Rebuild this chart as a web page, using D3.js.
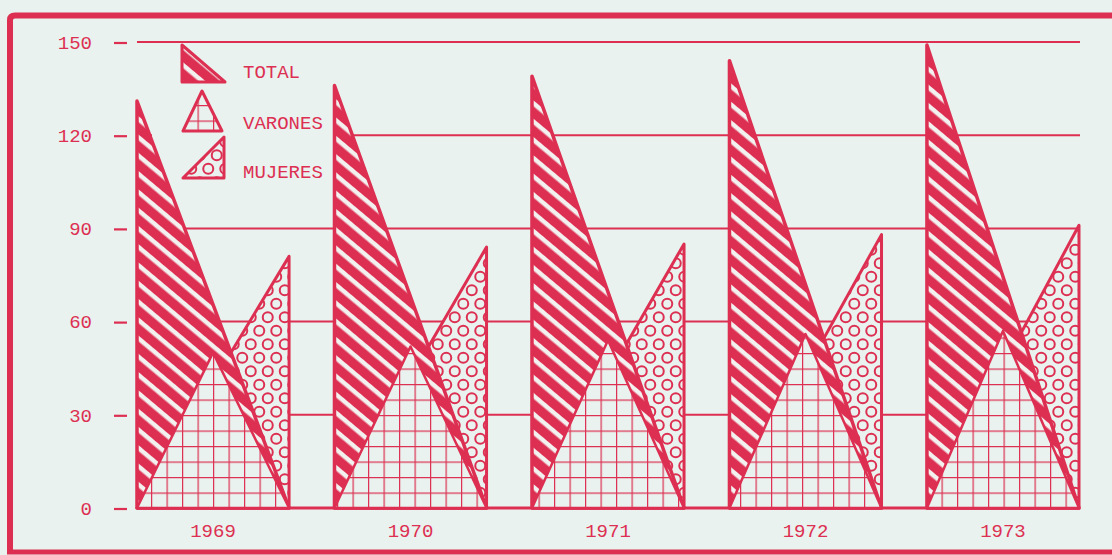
<!DOCTYPE html>
<html>
<head>
<meta charset="utf-8">
<script src="https://cdn.jsdelivr.net/npm/d3@7"></script>
<style>
  body { margin: 0; background: #e9f2ee; }
  svg text { font-family: "Liberation Mono", "DejaVu Sans Mono", monospace; fill: #dd2f52; }
</style>
</head>
<body>
<script>
// data
const years = ["1969", "1970", "1971", "1972", "1973"];
const total = [131, 136, 139, 144, 149];
const varones = [50, 52, 54, 56, 57];
const mujeres = [81, 84, 85, 88, 91];
const yTicks = [0, 30, 60, 90, 120, 150];
const legendLabels = ["TOTAL", "VARONES", "MUJERES"];

const red = "#dd2f52";
const bg = "#e9f2ee";
const W = 1112, H = 555;

const svg = d3.select("body").append("svg")
    .attr("width", W)
    .attr("height", H);

const y = d3.scaleLinear().domain([0, 150]).range([508, 42]);
const x = d3.scaleBand().domain(years).range([137, 1079]).paddingInner(0.23).paddingOuter(0);

// patterns: stripes (total), grid (varones), rings (mujeres)
const defs = svg.append("defs");

const stripes = defs.append("pattern")
    .attr("id", "stripes")
    .attr("patternUnits", "userSpaceOnUse")
    .attr("width", 14).attr("height", 14)
    .attr("patternTransform", "rotate(40)");
stripes.append("rect").attr("width", 14).attr("height", 14).attr("fill", "#f3f1ef");
stripes.append("rect").attr("y", 4.5).attr("width", 14).attr("height", 9.5).attr("fill", red);

const gridSize = 15.5;
const grid = defs.append("pattern")
    .attr("id", "grid")
    .attr("patternUnits", "userSpaceOnUse")
    .attr("x", x("1969") + x.bandwidth() / 2)
    .attr("y", 508)
    .attr("width", gridSize).attr("height", gridSize);
grid.append("rect").attr("width", gridSize).attr("height", gridSize).attr("fill", bg);
grid.append("path")
    .attr("d", `M0,0H${gridSize}M0,0V${gridSize}`)
    .attr("stroke", red).attr("stroke-width", 2.4).attr("fill", "none");

const rings = defs.append("pattern")
    .attr("id", "rings")
    .attr("patternUnits", "userSpaceOnUse")
    .attr("width", 17).attr("height", 27);
rings.append("rect").attr("width", 17).attr("height", 27).attr("fill", bg);
[[4.25, 6.75], [12.75, 20.25], [21.25, 6.75], [-4.25, 20.25]].forEach(c => {
    rings.append("circle")
        .attr("cx", c[0]).attr("cy", c[1]).attr("r", 5)
        .attr("fill", "none").attr("stroke", red).attr("stroke-width", 2);
});

// frame
svg.append("path")
    .attr("d", `M10,552 V20 Q10,15.5 15,15.5 H${W}`)
    .attr("fill", "none").attr("stroke", red).attr("stroke-width", 6);
svg.append("line")
    .attr("x1", 7).attr("x2", W).attr("y1", 552).attr("y2", 552)
    .attr("stroke", red).attr("stroke-width", 5);

// grid lines
svg.append("g").selectAll("line")
    .data(yTicks)
    .enter()
    .append("line")
    .attr("x1", 137).attr("x2", 1080)
    .attr("y1", d => y(d)).attr("y2", d => y(d))
    .attr("stroke", red).attr("stroke-width", d => d === 0 ? 3 : 2);

// y axis labels with dash ticks
const yAxis = svg.append("g");
yAxis.selectAll("text")
    .data(yTicks)
    .enter()
    .append("text")
    .attr("x", 92).attr("y", d => y(d))
    .attr("dy", "0.36em")
    .attr("text-anchor", "end")
    .style("font-size", "19px")
    .text(d => d);
yAxis.selectAll("line")
    .data(yTicks)
    .enter()
    .append("line")
    .attr("x1", 114).attr("x2", 127)
    .attr("y1", d => y(d) + 1).attr("y2", d => y(d) + 1)
    .attr("stroke", red).attr("stroke-width", 2.2);

// hide the 120 line behind the legend
svg.append("rect")
    .attr("x", 152).attr("y", 125)
    .attr("width", x("1970") - 153).attr("height", 20)
    .attr("fill", bg);

const groups = years.map((yr, i) => ({ year: yr, total: total[i], varones: varones[i], mujeres: mujeres[i] }));
const g = svg.append("g");

// mujeres: right angle on the right side
g.selectAll(".mujeres")
    .data(groups)
    .enter()
    .append("path")
    .attr("class", "mujeres")
    .attr("d", d => {
        const x0 = x(d.year), x1 = x0 + x.bandwidth();
        return `M${x0},${y(0)}L${x1},${y(0)}L${x1},${y(d.mujeres)}Z`;
    })
    .attr("fill", "url(#rings)")
    .attr("stroke", red).attr("stroke-width", 3).attr("stroke-linejoin", "round");

// total: right angle on the left side
g.selectAll(".total")
    .data(groups)
    .enter()
    .append("path")
    .attr("class", "total")
    .attr("d", d => {
        const x0 = x(d.year), x1 = x0 + x.bandwidth();
        return `M${x0},${y(0)}L${x0},${y(d.total)}L${x1},${y(0)}Z`;
    })
    .attr("fill", "url(#stripes)")
    .attr("stroke", red).attr("stroke-width", 3.5).attr("stroke-linejoin", "round");

// varones: isosceles in the middle
g.selectAll(".varones")
    .data(groups)
    .enter()
    .append("path")
    .attr("class", "varones")
    .attr("d", d => {
        const x0 = x(d.year), x1 = x0 + x.bandwidth(), xm = x0 + x.bandwidth() / 2;
        return `M${x0},${y(0)}L${xm},${y(d.varones)}L${x1},${y(0)}Z`;
    })
    .attr("fill", "url(#grid)")
    .attr("stroke", red).attr("stroke-width", 2.5).attr("stroke-linejoin", "round");

// year labels
svg.append("g").selectAll("text")
    .data(years)
    .enter()
    .append("text")
    .attr("x", d => x(d) + x.bandwidth() / 2)
    .attr("y", 537)
    .attr("text-anchor", "middle")
    .style("font-size", "19px")
    .text(d => d);

// legend
const legendIcons = [
    { d: "M182,45 L182,82 L225,82 Z", fill: "url(#stripes)" },
    { d: "M183,131 L202,91 L222,131 Z", fill: "url(#grid)" },
    { d: "M183,178 L224,137 L224,178 Z", fill: "url(#rings)" }
];
const legendY = [78, 129, 178];
const legend = svg.append("g");
legend.selectAll("path")
    .data(legendIcons)
    .enter()
    .append("path")
    .attr("d", d => d.d)
    .attr("fill", d => d.fill)
    .attr("stroke", red).attr("stroke-width", 3).attr("stroke-linejoin", "round");
legend.selectAll("text")
    .data(legendLabels)
    .enter()
    .append("text")
    .attr("x", 243)
    .attr("y", (d, i) => legendY[i])
    .style("font-size", "19px")
    .text(d => d);
</script>
</body>
</html>
